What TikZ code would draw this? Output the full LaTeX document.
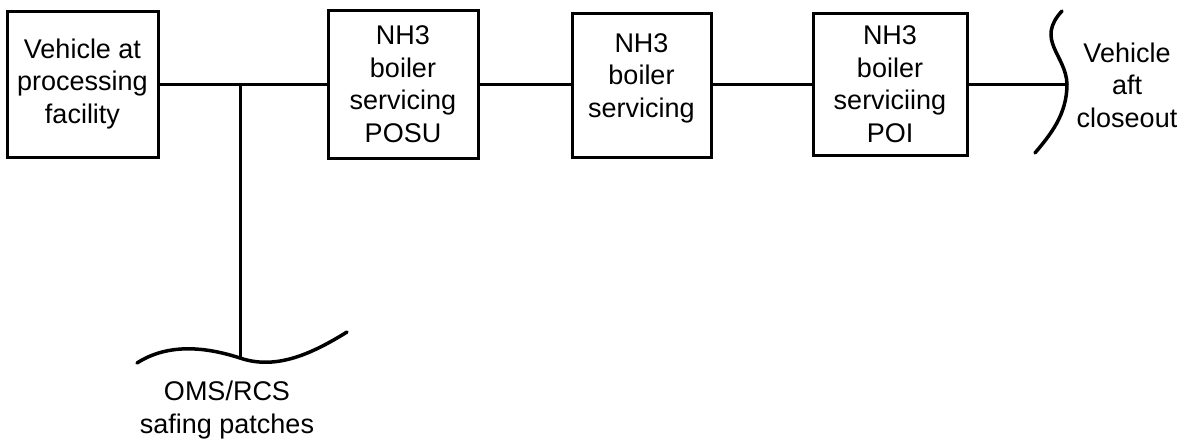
\documentclass[tikz,border=0pt]{standalone}
\usepackage{fontspec}
\setmainfont{Liberation Sans}
\begin{document}
\begin{tikzpicture}[x=1pt,y=-1pt,
  every node/.style={font=\fontsize{27}{32.5}\selectfont, align=center, inner sep=0pt},
  stepbox/.style={draw, line width=3pt},
  wire/.style={line width=3pt},
  breakline/.style={line width=3.5pt, line cap=round}]
  \useasboundingbox (0,0) rectangle (1192,445);

  % process boxes
  \node[stepbox, minimum width=151pt, minimum height=146pt] (veh) at (82.5,84)
    {Vehicle at\\processing\\facility};
  \node[stepbox, minimum width=150pt, minimum height=148pt] (posu) at (403,84)
    {NH3\\boiler\\servicing\\POSU};
  \node[stepbox, minimum width=139pt, minimum height=144pt] (serv) at (641.5,85) {};
  \node (servtext) at (641.5,78) {NH3\\boiler\\servicing};
  \node[stepbox, minimum width=154pt, minimum height=142pt] (poi) at (890,84)
    {NH3\\boiler\\serviciing\\POI};

  % break markers and their captions
  \coordinate (join) at (240,84);
  \coordinate (low) at (240,358);
  \coordinate (rt) at (1067,84);
  \draw[breakline] (137,363) .. controls (165,345) and (200,345) .. (low)
                   .. controls (275,370) and (310,355) .. (347,332);
  \draw[breakline] (1062,11) .. controls (1035,40) and (1066,55) .. (rt)
                   .. controls (1067,115) and (1050,135) .. (1035,153);
  \node (aft) at (1127,85) {Vehicle\\aft\\closeout};
  \node (oms) at (227,410) {OMS/RCS\\safing patches};

  % connectors
  \draw[wire] (veh.east) -- (posu.west);
  \draw[wire] (join) -- (low);
  \draw[wire] (posu.east) -- (serv.west |- posu.east);
  \draw[wire] (serv.east |- poi.west) -- (poi.west);
  \draw[wire] (poi.east) -- (rt);
\end{tikzpicture}
\end{document}
